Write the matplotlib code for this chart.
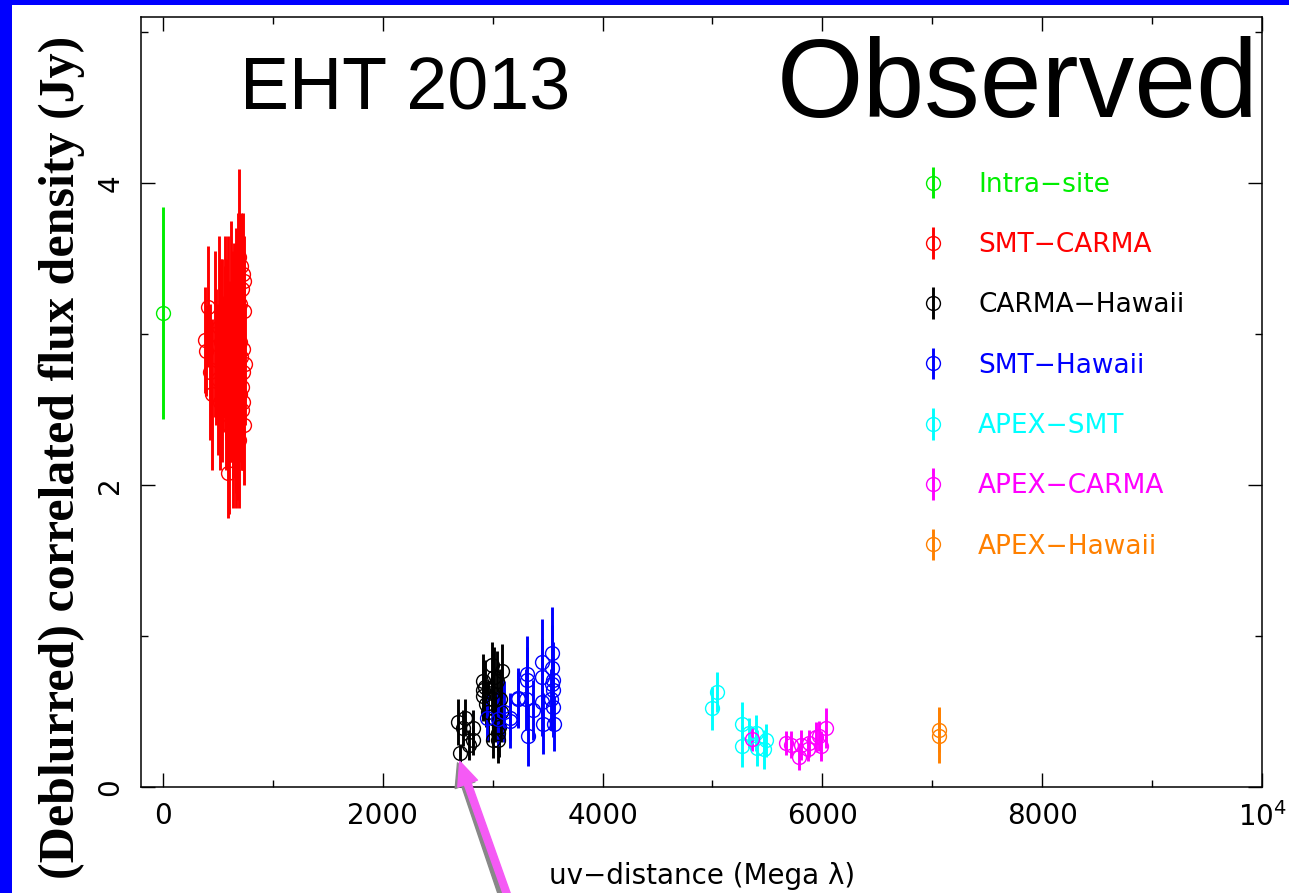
import matplotlib
matplotlib.use("Agg")
import matplotlib.pyplot as plt
from matplotlib.patches import Rectangle
from matplotlib.legend_handler import HandlerErrorbar

# uv-distance (Mega lambda), correlated flux (Jy), error (Jy) per baseline group
intra_x = [0]
intra_y = [3.14]
intra_e = [0.70]

smt_carma_x = [380, 390, 410, 430, 450, 470, 480, 500, 510, 520,
               530, 540, 550, 560, 570, 575, 580, 590, 595, 600,
               610, 615, 620, 630, 635, 640, 645, 650, 655, 660,
               665, 670, 675, 680, 685, 690, 695, 700, 705, 710,
               715, 720, 725, 730, 735, 740, 700, 690, 720, 730,
               640, 610, 560, 540, 660, 680, 710, 725, 735, 745]
smt_carma_y = [2.96, 2.89, 3.18, 2.75, 2.60, 3.00, 2.85, 2.70, 3.05, 2.55,
               2.95, 2.65, 2.80, 3.10, 2.50, 2.90, 2.70, 2.08, 3.00, 2.40,
               2.85, 2.60, 3.20, 2.75, 2.30, 2.95, 3.05, 2.55, 2.80, 2.45,
               3.10, 2.65, 2.90, 2.35, 3.25, 2.70, 3.51, 2.60, 2.95, 2.85,
               3.30, 2.50, 3.40, 2.75, 3.15, 2.40, 3.20, 2.30, 2.65, 2.90,
               2.50, 2.70, 2.95, 3.05, 2.25, 3.00, 3.45, 2.55, 3.35, 2.80]
smt_carma_e = [0.35, 0.30, 0.40, 0.45, 0.50, 0.55, 0.45, 0.50, 0.60, 0.45,
               0.55, 0.50, 0.45, 0.55, 0.40, 0.60, 0.50, 0.30, 0.65, 0.59,
               0.50, 0.45, 0.55, 0.50, 0.45, 0.60, 0.55, 0.50, 0.45, 0.50,
               0.60, 0.55, 0.50, 0.45, 0.55, 0.50, 0.58, 0.45, 0.50, 0.55,
               0.45, 0.40, 0.40, 0.45, 0.35, 0.40, 0.50, 0.45, 0.55, 0.50,
               0.45, 0.55, 0.50, 0.45, 0.40, 0.50, 0.35, 0.45, 0.30, 0.40]

carma_hawaii_x = [2700, 2680, 2745, 2727, 2818, 2818, 2780, 2909, 2909, 2909,
                  2940, 2990, 3000, 3000, 3045, 3060, 3082, 3070, 3040, 3020,
                  2960, 2930, 3050, 3010, 3075, 2990]
carma_hawaii_y = [0.225, 0.43, 0.46, 0.39, 0.39, 0.31, 0.28, 0.70, 0.64, 0.60,
                  0.55, 0.81, 0.31, 0.58, 0.31, 0.40, 0.77, 0.58, 0.70, 0.45,
                  0.50, 0.66, 0.36, 0.73, 0.50, 0.62]
carma_hawaii_e = [0.06, 0.15, 0.12, 0.12, 0.12, 0.10, 0.10, 0.18, 0.20, 0.15,
                  0.15, 0.15, 0.12, 0.20, 0.15, 0.20, 0.18, 0.20, 0.20, 0.15,
                  0.20, 0.18, 0.12, 0.20, 0.20, 0.15]

smt_hawaii_x = [2945, 3155, 3155, 3227, 3227, 3309, 3309, 3318, 3300, 3364,
                3445, 3445, 3445, 3455, 3536, 3536, 3545, 3545, 3530, 3545,
                3555, 3540, 3100, 3050]
smt_hawaii_y = [0.46, 0.46, 0.44, 0.59, 0.58, 0.75, 0.71, 0.34, 0.58, 0.51,
                0.83, 0.73, 0.56, 0.42, 0.89, 0.79, 0.71, 0.64, 0.58, 0.53,
                0.42, 0.68, 0.50, 0.45]
smt_hawaii_e = [0.15, 0.15, 0.18, 0.20, 0.18, 0.25, 0.22, 0.20, 0.20, 0.20,
                0.28, 0.25, 0.22, 0.20, 0.30, 0.28, 0.25, 0.22, 0.20, 0.20,
                0.18, 0.25, 0.20, 0.18]

apex_smt_x = [5045, 5000, 5264, 5264, 5336, 5400, 5490, 5473, 5409]
apex_smt_y = [0.63, 0.52, 0.42, 0.27, 0.36, 0.36, 0.31, 0.25, 0.26]
apex_smt_e = [0.13, 0.14, 0.14, 0.14, 0.10, 0.12, 0.11, 0.13, 0.12]

apex_carma_x = [5364, 5673, 5718, 5791, 5809, 5882, 5870, 5945, 5991, 6036, 5973]
apex_carma_y = [0.32, 0.29, 0.28, 0.20, 0.28, 0.29, 0.25, 0.33, 0.27, 0.39, 0.34]
apex_carma_e = [0.08, 0.08, 0.09, 0.09, 0.10, 0.09, 0.08, 0.10, 0.10, 0.13, 0.10]

apex_hawaii_x = [7064, 7064]
apex_hawaii_y = [0.38, 0.34]
apex_hawaii_e = [0.15, 0.18]

groups = [
    ("Intra\u2212site", "#00ee00", intra_x, intra_y, intra_e),
    ("SMT\u2212CARMA", "#ff0000", smt_carma_x, smt_carma_y, smt_carma_e),
    ("CARMA\u2212Hawaii", "#000000", carma_hawaii_x, carma_hawaii_y, carma_hawaii_e),
    ("SMT\u2212Hawaii", "#0000ff", smt_hawaii_x, smt_hawaii_y, smt_hawaii_e),
    ("APEX\u2212SMT", "#00ffff", apex_smt_x, apex_smt_y, apex_smt_e),
    ("APEX\u2212CARMA", "#ff00ff", apex_carma_x, apex_carma_y, apex_carma_e),
    ("APEX\u2212Hawaii", "#ff8000", apex_hawaii_x, apex_hawaii_y, apex_hawaii_e),
]

W, H = 1289, 893
fig = plt.figure(figsize=(W / 100, H / 100), dpi=100)
fig.patch.set_facecolor("white")

# blue slide frame
fig.patches.append(Rectangle((0, 0), 12 / W, 1, transform=fig.transFigure,
                             facecolor="#0000ff", edgecolor="none", zorder=0))
fig.patches.append(Rectangle((0, 1 - 5 / H), 1, 5 / H, transform=fig.transFigure,
                             facecolor="#0000ff", edgecolor="none", zorder=0))

ax = fig.add_axes([141 / W, 1 - 787 / H, (1262 - 141) / W, (787 - 17) / H])

handles = []
for label, color, x, y, e in groups:
    h = ax.errorbar(x, y, yerr=e, fmt="o", mfc="none", mec=color, ecolor=color,
                    ms=10, mew=1.0, elinewidth=2.1, capsize=0, label=label)
    handles.append(h)

ax.set_xlim(-200, 10000)
ax.set_ylim(0, 5.1)

ax.set_xticks([0, 2000, 4000, 6000, 8000, 10000],
              ["0", "2000", "4000", "6000", "8000", r"$10^4$"])
ax.set_xticks([1000, 3000, 5000, 7000, 9000], minor=True)
ax.set_yticks([0, 2, 4], ["0", "2", "4"])
ax.set_yticks([1, 3, 5], minor=True)

ax.tick_params(which="both", direction="in", top=True, right=True, width=1.0,
               labelsize=20)
ax.tick_params(which="major", length=10)
ax.tick_params(which="minor", length=5)
ax.tick_params(axis="x", pad=11)
ax.tick_params(axis="y", labelrotation=90, pad=12)
for lab in ax.get_yticklabels():
    lab.set_verticalalignment("center")
for s in ax.spines.values():
    s.set_linewidth(1.1)

leg = ax.legend(handles=handles, loc="upper left", bbox_to_anchor=(0.695, 0.799),
                frameon=False, fontsize=19, numpoints=1, handlelength=1.0,
                handletextpad=1.2, labelspacing=1.3, borderpad=0, borderaxespad=0,
                labelcolor=[g[1] for g in groups],
                handler_map={type(handles[0]): HandlerErrorbar(yerr_size=0.6)})

fig.text(240 / W, 1 - 109 / H, "EHT 2013", family="Liberation Sans", fontsize=53,
         va="baseline", ha="left")
fig.text(777 / W, 1 - 117 / H, "Observed", family="Liberation Sans", fontsize=80,
         va="baseline", ha="left")

fig.text(62 / W, 1 - 457 / H, "(Deblurred) correlated flux density (Jy)",
         family="Liberation Serif", fontweight="bold", fontsize=36,
         rotation=90, ha="center", va="center")
fig.text(702 / W, 1 - 884 / H, "uv\u2212distance (Mega \u03bb)", fontsize=20,
         ha="center", va="baseline")

# pointer arrow with grey shadow
ax.annotate("", xy=(2680, 0.16), xytext=(513 / W - 0.002, -0.03),
            textcoords="figure fraction", annotation_clip=False,
            arrowprops=dict(color="#888888", width=5, headwidth=15, headlength=17))
ax.annotate("", xy=(2700, 0.17), xytext=(516 / W, -0.03),
            textcoords="figure fraction", annotation_clip=False,
            arrowprops=dict(color="#f55af5", width=5, headwidth=15, headlength=17))

fig.savefig("out.png", dpi=100)
